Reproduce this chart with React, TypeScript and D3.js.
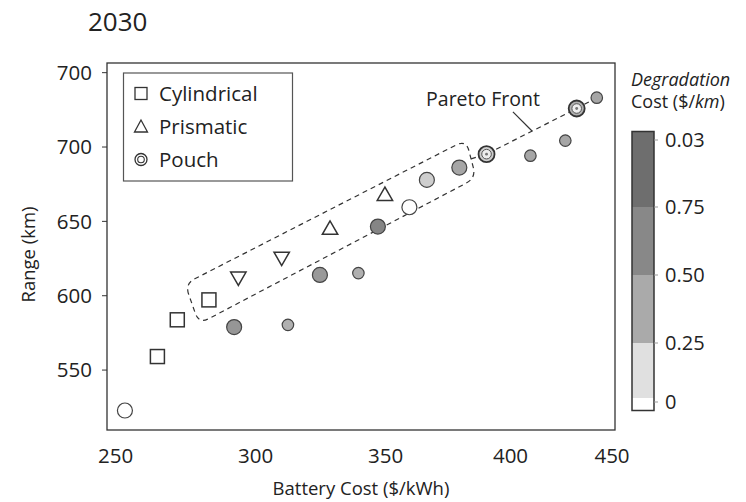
import React from "react";
import * as d3 from "d3";

// ---------- data ----------
const title = "2030";
const xTicks = [250, 300, 350, 400, 450];
const xTickLabels = ["250", "300", "350", "400", "450"];
const yTicks = [750, 700, 650, 600, 550];
const yTickLabels = ["700", "700", "650", "600", "550"];

const pointCost = [253.3, 264.9, 272.0, 283.3, 292.3, 293.8, 312.4, 310.0, 324.7, 328.6, 339.5, 347.0, 349.7, 359.5, 366.5, 379.5, 390.4, 409.8, 427.0, 432.6, 442.5];
const pointRange = [522.8, 559.1, 583.8, 597.2, 578.9, 612.9, 580.4, 626.3, 614.0, 644.3, 615.2, 646.5, 667.1, 659.5, 677.9, 686.2, 695.2, 694.2, 704.3, 725.9, 733.2];
const pointShape = ["circle", "square", "square", "square", "circle", "triangleDown", "circle", "triangleDown", "circle", "triangle", "circle", "circle", "triangle", "circle", "circle", "circle", "pouch", "circle", "circle", "pouch", "circle"];
const pointSize = ["L", "L", "L", "L", "L", "L", "S", "L", "L", "L", "S", "L", "L", "L", "L", "L", "L", "S", "S", "L", "S"];
const pointDeg = [0, 0, 0, 0, 0.62, 0, 0.45, 0, 0.6, 0, 0.45, 0.75, 0, 0, 0.3, 0.5, 0.3, 0.5, 0.5, 0.45, 0.5];

const legendLabels = ["Cylindrical", "Prismatic", "Pouch"];
const legendShapes = ["square", "triangle", "pouch"];

const degTicks = [0, 0.25, 0.5, 0.75, 1.0];
const degTickLabels = ["0", "0.25", "0.50", "0.75", "0.03"];
const degBandEdges = [-0.038, 0.017, 0.25, 0.5, 0.75, 1.031];
const degBandColors = ["#ffffff", "#e0e0e0", "#aaaaaa", "#888888", "#6e6e6e"];

// annotation (data coordinates)
const frontBoxCost = [274.75, 382.2, 386.2, 279.75];
const frontBoxRange = [608.0, 704.8, 679.2, 581.1];
const frontLineCost = [384.2, 390.4, 432.6, 442.5];
const frontLineRange = [692.0, 695.2, 725.9, 733.2];
const frontLabel = { text: "Pareto Front", cost: 389.0, range: 727.4 };
const frontLeader = { cost: [401.2, 410.6], range: [723.6, 710.8] };

// ---------- layout ----------
const W = 746, H = 502;
const M = { left: 107, right: 615, top: 63, bottom: 430 };
const xTickFrac = [0.0171, 0.2927, 0.5486, 0.7943, 0.9941];
const yDomain = [509.7, 756.5];
const font = "'Open Sans', 'DejaVu Sans', sans-serif";
const ink = "#333";

const cb = { x: 632, w: 22, top: 131.5, bottom: 410.5 };
const cbTickPos = [402, 343, 275, 207, 140];

function roundedPoly(pts: [number, number][], r: number) {
  const n = pts.length;
  let d = "";
  for (let i = 0; i < n; i++) {
    const p0 = pts[(i - 1 + n) % n], p1 = pts[i], p2 = pts[(i + 1) % n];
    const v1 = [p0[0] - p1[0], p0[1] - p1[1]];
    const v2 = [p2[0] - p1[0], p2[1] - p1[1]];
    const l1 = Math.hypot(v1[0], v1[1]), l2 = Math.hypot(v2[0], v2[1]);
    const a = [p1[0] + (v1[0] / l1) * r, p1[1] + (v1[1] / l1) * r];
    const b = [p1[0] + (v2[0] / l2) * r, p1[1] + (v2[1] / l2) * r];
    d += (i === 0 ? "M" : "L") + a[0] + "," + a[1] + "Q" + p1[0] + "," + p1[1] + " " + b[0] + "," + b[1];
  }
  return d + "Z";
}

function Marker({ shape, cx, cy, size, fill }: any) {
  if (shape === "square") {
    const s = size;
    return <rect x={cx - s / 2} y={cy - s / 2} width={s} height={s} fill={fill} stroke={ink} strokeWidth={1.5} />;
  }
  if (shape === "triangle" || shape === "triangleDown") {
    const s = size * 1.1;
    const h = s * 0.87;
    const sign = shape === "triangle" ? 1 : -1;
    const p = [
      [cx, cy - (sign * 2 * h) / 3],
      [cx - s / 2, cy + (sign * h) / 3],
      [cx + s / 2, cy + (sign * h) / 3],
    ];
    return <path d={"M" + p.map((q) => q.join(",")).join("L") + "Z"} fill={fill} stroke={ink} strokeWidth={1.5} strokeLinejoin="miter" />;
  }
  if (shape === "pouch") {
    const r = size / 2 + 1;
    return (
      <g>
        <circle cx={cx} cy={cy} r={r} fill={fill} stroke={ink} strokeWidth={1.8} />
        <circle cx={cx} cy={cy} r={r * 0.6} fill="#eeeeee" stroke="#555" strokeWidth={1} />
        <circle cx={cx} cy={cy} r={r * 0.18} fill="#777" />
      </g>
    );
  }
  return <circle cx={cx} cy={cy} r={size / 2} fill={fill} stroke={fill === "#ffffff" ? ink : "#444"} strokeWidth={fill === "#ffffff" ? 1.7 : 1.2} />;
}

export default function App() {
  const x = d3.scaleLinear().domain(xTicks).range(xTickFrac.map((f) => M.left + f * (M.right - M.left)));
  const y = d3.scaleLinear().domain(yDomain).range([M.bottom, M.top]);
  const degColor = d3.scaleLinear<string>().domain([0, 0.25, 0.5, 0.75, 1]).range(["#ffffff", "#d8d8d8", "#a6a6a6", "#858585", "#6e6e6e"]);
  const cbY = d3.scaleLinear().domain(degTicks).range(cbTickPos);

  const boxPts = frontBoxCost.map((c, i) => [x(c), y(frontBoxRange[i])] as [number, number]);
  const line = d3.line<number>().x((d) => x(frontLineCost[d])).y((d) => y(frontLineRange[d]));

  return (
    <svg width={W} height={H} style={{ position: "absolute", left: 0, top: 0, background: "#fff" }} fontFamily={font}>
      <rect width={W} height={H} fill="#fff" />
      <text x={88} y={31} fontSize={26} fill="#222">{title}</text>

      {/* frame */}
      <rect x={M.left} y={M.top} width={M.right - M.left} height={M.bottom - M.top} fill="none" stroke={ink} strokeWidth={1.3} />

      {/* y axis */}
      {yTicks.map((t, i) => (
        <g key={"y" + i}>
          <line x1={M.left - 5} x2={M.left} y1={y(t)} y2={y(t)} stroke={ink} strokeWidth={1} />
          <text x={M.left - 15} y={y(t)} dy="0.35em" textAnchor="end" fontSize={20.5} fill="#222">{yTickLabels[i]}</text>
        </g>
      ))}
      <text transform={`translate(35,${(M.top + M.bottom) / 2 + 8}) rotate(-90)`} textAnchor="middle" fontSize={18.5} fill="#222">Range (km)</text>

      {/* x axis */}
      {xTicks.map((t, i) => (
        <text key={"x" + i} x={x(t)} y={463} textAnchor="middle" fontSize={20.5} fill="#222">{xTickLabels[i]}</text>
      ))}
      <text x={361} y={495} textAnchor="middle" fontSize={18.5} fill="#222">Battery Cost ($/kWh)</text>

      {/* Pareto annotation */}
      <path d={roundedPoly(boxPts, 11)} fill="none" stroke={ink} strokeWidth={1.2} strokeDasharray="5,4" />
      <path d={line(d3.range(frontLineCost.length)) || ""} fill="none" stroke={ink} strokeWidth={1.2} strokeDasharray="5,4" />
      <line x1={x(frontLeader.cost[0])} y1={y(frontLeader.range[0])} x2={x(frontLeader.cost[1])} y2={y(frontLeader.range[1])} stroke={ink} strokeWidth={1.2} />
      <text x={x(frontLabel.cost)} y={y(frontLabel.range)} textAnchor="middle" fontSize={19.5} fill="#222">{frontLabel.text}</text>

      {/* points */}
      {pointCost.map((c, i) => (
        <Marker key={"p" + i} shape={pointShape[i]} cx={x(c)} cy={y(pointRange[i])} size={pointSize[i] === "L" ? (pointShape[i] === "circle" ? 15 : 14) : 11.5} fill={degColor(pointDeg[i])} />
      ))}

      {/* legend */}
      <rect x={123.5} y={73} width={169} height={108} fill="#fff" stroke="#555" strokeWidth={1.2} />
      {legendLabels.map((l, i) => (
        <g key={"l" + i}>
          {legendShapes[i] === "pouch" ? (
            <g>
              <circle cx={141} cy={93.5 + i * 33} r={6} fill="#fff" stroke={ink} strokeWidth={1.3} />
              <circle cx={141} cy={93.5 + i * 33} r={3.3} fill="#fff" stroke={ink} strokeWidth={1.1} />
            </g>
          ) : legendShapes[i] === "square" ? (
            <rect x={135} y={87.5 + i * 33} width={12} height={12} fill="#fff" stroke={ink} strokeWidth={1.3} />
          ) : (
            <path d={`M141,${87 + i * 33}L134.5,${99 + i * 33}L147.5,${99 + i * 33}Z`} fill="#fff" stroke={ink} strokeWidth={1.3} />
          )}
          <text x={159} y={93.5 + i * 33} dy="0.35em" fontSize={20.5} fill="#222">{l}</text>
        </g>
      ))}

      {/* colorbar */}
      <text x={631} y={86} fontSize={18} fontStyle="italic" fill="#222">Degradation</text>
      <text x={631} y={108} fontSize={18} fill="#222">Cost (<tspan>$/</tspan><tspan fontStyle="italic">km</tspan>)</text>
      {degBandColors.map((col, i) => {
        const y0 = i === 0 ? cb.bottom : cbY(degBandEdges[i]);
        const y1 = i === degBandColors.length - 1 ? cb.top : cbY(degBandEdges[i + 1]);
        return <rect key={"b" + i} x={cb.x} y={y1} width={cb.w} height={y0 - y1} fill={col} />;
      })}
      <rect x={cb.x} y={cb.top} width={cb.w} height={cb.bottom - cb.top} fill="none" stroke={ink} strokeWidth={1.5} />
      {degTicks.map((t, i) => (
        <g key={"c" + i}>
          <line x1={cb.x + cb.w} x2={cb.x + cb.w + 4} y1={cbY(t)} y2={cbY(t)} stroke="#999" strokeWidth={1} />
          <text x={665} y={cbY(t)} dy="0.35em" fontSize={20} fill="#222">{degTickLabels[i]}</text>
        </g>
      ))}
    </svg>
  );
}
